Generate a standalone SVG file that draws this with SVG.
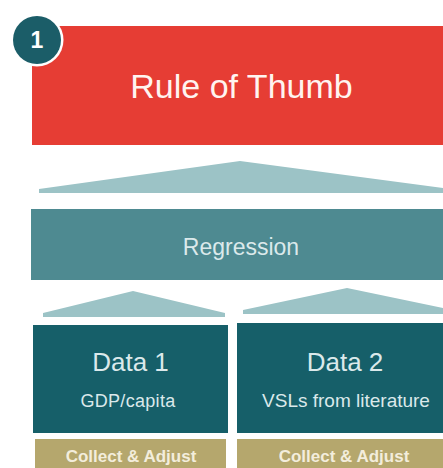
<svg xmlns="http://www.w3.org/2000/svg" width="443" height="468" viewBox="0 0 443 468">
  <style>
    .lbl { font-family: "Liberation Sans", Arial, sans-serif; text-anchor: middle; }
    .light { fill: #dbe9eb; }
    .tri { fill: #9cc3c6; }
    .data { fill: #165f69; }
    .tan { fill: #b5a76d; }
    .tanTxt { fill: #f3eddc; font-weight: bold; font-size: 17px; }
  </style>
  <rect width="443" height="468" fill="#ffffff"/>

  <!-- top level -->
  <g id="rule-of-thumb">
    <rect x="32" y="26" width="420" height="119" fill="#e63d34"/>
    <text class="lbl" x="241.5" y="98" font-size="34" fill="#fff4f0">Rule of Thumb</text>
  </g>

  <g id="step-badge">
    <circle cx="37" cy="40" r="26.5" fill="#ffffff"/>
    <circle cx="37" cy="40" r="24" fill="#1b5d68"/>
    <text class="lbl" x="37" y="48" font-size="23" font-weight="bold" fill="#ffffff">1</text>
  </g>

  <!-- connectors: upward wedges between layers -->
  <g id="connectors">
    <polygon class="tri" points="39,193 39,189 240,161 443,188 443,193"/>
    <polygon class="tri" points="43,317 43,313 133,291 225,313 225,317"/>
    <polygon class="tri" points="243,314 243,310 347,288 443,308 443,314"/>
  </g>

  <g id="regression">
    <rect x="31" y="209" width="420" height="71" fill="#4e8a91"/>
    <text class="lbl light" x="241" y="255" font-size="23">Regression</text>
  </g>

  <g id="data-1">
    <rect class="data" x="33" y="325" width="195" height="108"/>
    <text class="lbl light" x="130.5" y="371" font-size="26">Data 1</text>
    <text class="lbl light" x="128" y="407" font-size="18" letter-spacing="0.3">GDP/capita</text>
  </g>

  <g id="data-2">
    <rect class="data" x="237" y="323" width="215" height="110"/>
    <text class="lbl light" x="345" y="371" font-size="26">Data 2</text>
    <text class="lbl light" x="346" y="407" font-size="19">VSLs from literature</text>
  </g>

  <g id="collect-1">
    <rect class="tan" x="35" y="439" width="191" height="35"/>
    <text class="lbl tanTxt" x="131" y="462">Collect &amp; Adjust</text>
  </g>

  <g id="collect-2">
    <rect class="tan" x="237" y="439" width="215" height="35"/>
    <text class="lbl tanTxt" x="344" y="462">Collect &amp; Adjust</text>
  </g>
</svg>
